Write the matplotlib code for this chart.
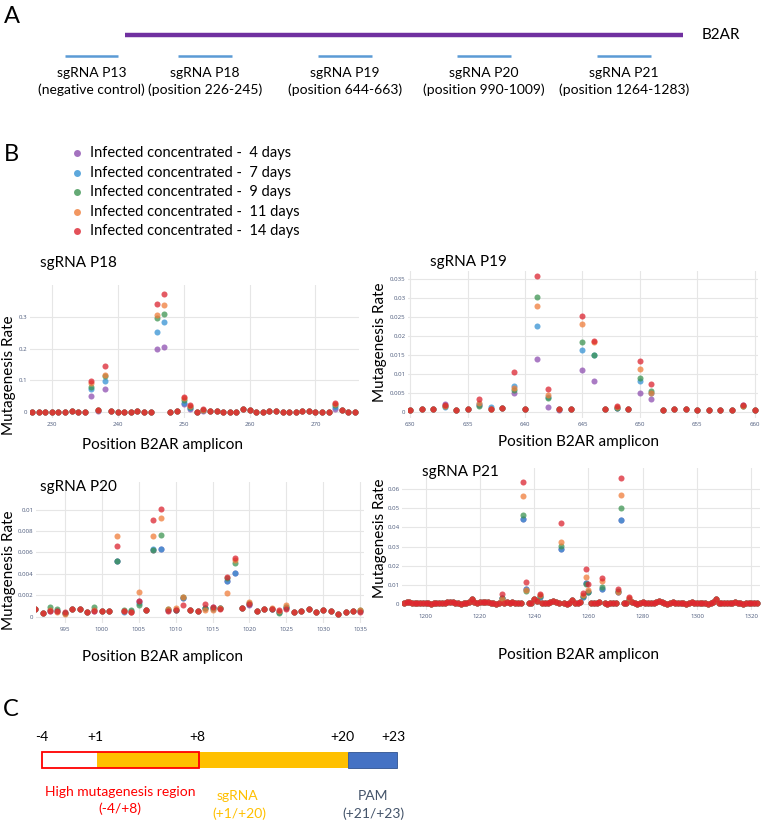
import matplotlib
matplotlib.use("Agg")
import matplotlib.pyplot as plt
from matplotlib.patches import Rectangle

W, H = 764, 823
plt.rcParams['font.family'] = ['Lato', 'DejaVu Sans']

# ---------------- data ----------------
series_labels = ["Infected concentrated -  4 days", "Infected concentrated -  7 days",
                 "Infected concentrated -  9 days", "Infected concentrated -  11 days",
                 "Infected concentrated -  14 days"]
series_colors = ['#8e4fb0', '#3592d4', '#3d9452', '#ef7d3a', '#dc2430']

# sgRNA P18
p18_pos = list(range(227, 277))
p18_base = [0.002, 0.002, 0.002, 0.002, 0.002, 0.002, 0.004, 0.002, 0.002, 0.098,
            0.006, 0.146, 0.004, 0.002, 0.002, 0.002, 0.005, 0.002, 0.002, 0.341,
            0.373, 0.002, 0.004, 0.049, 0.023, 0.002, 0.009, 0.004, 0.004, 0.002,
            0.002, 0.002, 0.009, 0.008, 0.002, 0.002, 0.005, 0.003, 0.002, 0.002,
            0.002, 0.004, 0.003, 0.002, 0.002, 0.002, 0.030, 0.008, 0.002, 0.002]
p18_peaks = {
    236: [0.050, 0.072, 0.081, 0.093, 0.098],
    237: [0.005, 0.006, 0.006, 0.006, 0.006],
    238: [0.072, 0.097, 0.113, 0.117, 0.146],
    246: [0.198, 0.252, 0.295, 0.305, 0.341],
    247: [0.204, 0.283, 0.310, 0.338, 0.373],
    250: [0.027, 0.030, 0.039, 0.044, 0.049],
    251: [0.010, 0.013, 0.018, 0.020, 0.023],
    253: [0.005, 0.006, 0.007, 0.008, 0.009],
    273: [0.010, 0.018, 0.022, 0.026, 0.030],
    274: [0.006, 0.007, 0.008, 0.008, 0.008],
}

# sgRNA P19
p19_pos = list(range(630, 661))
p19_base = [0.0005, 0.0008, 0.0006, 0.0017, 0.0005, 0.0006, 0.0032, 0.0007, 0.0009, 0.0106,
            0.0006, 0.0360, 0.0061, 0.0008, 0.0006, 0.0253, 0.0188, 0.0007, 0.0015, 0.0007,
            0.0134, 0.0073, 0.0004, 0.0006, 0.0008, 0.0003, 0.0004, 0.0004, 0.0005, 0.0017,
            0.0003]
p19_peaks = {
    633: [0.0021, 0.0012, 0.0015, 0.0015, 0.0017],
    636: [0.0017, 0.0019, 0.0016, 0.0024, 0.0032],
    637: [0.0007, 0.0012, 0.0007, 0.0007, 0.0007],
    639: [0.0049, 0.0067, 0.0058, 0.0063, 0.0106],
    640: [0.0008, 0.0006, 0.0006, 0.0006, 0.0006],
    641: [0.0139, 0.0226, 0.0304, 0.0280, 0.0360],
    642: [0.0013, 0.0038, 0.0036, 0.0043, 0.0061],
    643: [0.0004, 0.0007, 0.0007, 0.0008, 0.0008],
    645: [0.0111, 0.0164, 0.0185, 0.0233, 0.0253],
    646: [0.0082, 0.0151, 0.0150, 0.0185, 0.0188],
    648: [0.0010, 0.0010, 0.0010, 0.0013, 0.0015],
    650: [0.0050, 0.0082, 0.0090, 0.0113, 0.0134],
    651: [0.0033, 0.0048, 0.0055, 0.0050, 0.0073],
    659: [0.0017, 0.0016, 0.0015, 0.0016, 0.0017],
}

# sgRNA P20
p20_pos = list(range(991, 1036))
p20_base = [0.0007, 0.0003, 0.0005, 0.0005, 0.0004, 0.0007, 0.0007, 0.0004, 0.0005, 0.0005,
            0.0005, 0.0066, 0.0005, 0.0004, 0.0015, 0.0006, 0.0090, 0.0101, 0.0005, 0.0006,
            0.0011, 0.0006, 0.0005, 0.0012, 0.0009, 0.0007, 0.0037, 0.0055, 0.0008, 0.0012,
            0.0005, 0.0007, 0.0007, 0.0006, 0.0007, 0.0004, 0.0005, 0.0007, 0.0004, 0.0006,
            0.0005, 0.0002, 0.0004, 0.0005, 0.0004]
p20_peaks = {
    993: [0.0005, 0.0006, 0.0009, 0.0006, 0.0005],
    994: [0.0005, 0.0005, 0.0007, 0.0004, 0.0005],
    995: [0.0003, 0.0003, 0.0003, 0.0002, 0.0004],
    999: [0.0005, 0.0006, 0.0009, 0.0006, 0.0005],
    1002: [0.0052, 0.0052, 0.0052, 0.0075, 0.0066],
    1003: [0.0005, 0.0004, 0.0006, 0.0005, 0.0005],
    1004: [0.0004, 0.0005, 0.0006, 0.0004, 0.0004],
    1005: [0.0015, 0.0013, 0.0011, 0.0023, 0.0015],
    1007: [0.0062, 0.0063, 0.0062, 0.0075, 0.0090],
    1008: [0.0063, 0.0063, 0.0076, 0.0092, 0.0101],
    1009: [0.0006, 0.0006, 0.0007, 0.0007, 0.0005],
    1010: [0.0006, 0.0006, 0.0006, 0.0008, 0.0006],
    1011: [0.0017, 0.0017, 0.0018, 0.0018, 0.0011],
    1014: [0.0008, 0.0008, 0.0008, 0.0006, 0.0012],
    1015: [0.0009, 0.0007, 0.0008, 0.0006, 0.0009],
    1016: [0.0008, 0.0008, 0.0008, 0.0008, 0.0007],
    1017: [0.0033, 0.0033, 0.0036, 0.0022, 0.0037],
    1018: [0.0041, 0.0041, 0.0050, 0.0053, 0.0055],
    1020: [0.0011, 0.0012, 0.0013, 0.0014, 0.0012],
    1023: [0.0007, 0.0007, 0.0007, 0.0008, 0.0007],
    1024: [0.0004, 0.0004, 0.0003, 0.0005, 0.0006],
    1025: [0.0008, 0.0009, 0.0009, 0.0011, 0.0007],
    1035: [0.0005, 0.0005, 0.0006, 0.0006, 0.0004],
}

# sgRNA P21
p21_pos = list(range(1192, 1323))
p21_base = [0.0008, 0.0013, 0.0011, 0.0008, 0.0005, 0.0004, 0.0006, 0.0007, 0.0005, 0.0004,
            0.0003, 0.0006, 0.0008, 0.0006, 0.0004, 0.0005, 0.0009, 0.0012, 0.0010, 0.0006,
            0.0004, 0.0003, 0.0005, 0.0008, 0.0011, 0.0027, 0.0010, 0.0006, 0.0009, 0.0012,
            0.0014, 0.0009, 0.0005, 0.0004, 0.0003, 0.0005, 0.0052, 0.0007, 0.0012, 0.0008,
            0.0010, 0.0006, 0.0004, 0.0005, 0.0633, 0.0113, 0.0005, 0.0008, 0.0025, 0.0015,
            0.0054, 0.0006, 0.0004, 0.0008, 0.0012, 0.0018, 0.0011, 0.0004, 0.0423, 0.0005,
            0.0003, 0.0008, 0.0022, 0.0006, 0.0004, 0.0010, 0.0059, 0.0183, 0.0106, 0.0005,
            0.0007, 0.0006, 0.0012, 0.0134, 0.0004, 0.0003, 0.0006, 0.0005, 0.0008, 0.0077,
            0.0655, 0.0008, 0.0005, 0.0035, 0.0010, 0.0005, 0.0003, 0.0006, 0.0012, 0.0008,
            0.0005, 0.0004, 0.0007, 0.0010, 0.0015, 0.0009, 0.0005, 0.0003, 0.0006, 0.0009,
            0.0006, 0.0004, 0.0008, 0.0005, 0.0003, 0.0006, 0.0009, 0.0006, 0.0004, 0.0005,
            0.0008, 0.0005, 0.0003, 0.0006, 0.0009, 0.0025, 0.0008, 0.0005, 0.0004, 0.0006,
            0.0005, 0.0007, 0.0010, 0.0008, 0.0005, 0.0003, 0.0006, 0.0008, 0.0005, 0.0004,
            0.0006]
p21_peaks = {
    1228: [0.0030, 0.0030, 0.0030, 0.0028, 0.0052],
    1236: [0.0443, 0.0443, 0.0463, 0.0562, 0.0633],
    1237: [0.0077, 0.0077, 0.0068, 0.0075, 0.0113],
    1242: [0.0040, 0.0040, 0.0045, 0.0050, 0.0054],
    1250: [0.0287, 0.0287, 0.0304, 0.0323, 0.0423],
    1258: [0.0040, 0.0040, 0.0045, 0.0050, 0.0059],
    1259: [0.0108, 0.0108, 0.0103, 0.0143, 0.0183],
    1260: [0.0064, 0.0064, 0.0064, 0.0073, 0.0106],
    1265: [0.0077, 0.0077, 0.0090, 0.0122, 0.0134],
    1271: [0.0066, 0.0066, 0.0068, 0.0066, 0.0077],
    1272: [0.0438, 0.0438, 0.0500, 0.0569, 0.0655],
    1275: [0.0020, 0.0020, 0.0025, 0.0030, 0.0035],
}

p18_xticks = [230, 240, 250, 260, 270]
p18_yticks = [0, 0.1, 0.2, 0.3]
p18_ytl = ["0", "0.1", "0.2", "0.3"]
p19_xticks = [630, 635, 640, 645, 650, 655, 660]
p19_yticks = [0, 0.005, 0.01, 0.015, 0.02, 0.025, 0.03, 0.035]
p19_ytl = ["0", "0.005", "0.01", "0.015", "0.02", "0.025", "0.03", "0.035"]
p20_xticks = [995, 1000, 1005, 1010, 1015, 1020, 1025, 1030, 1035]
p20_yticks = [0, 0.002, 0.004, 0.006, 0.008, 0.01]
p20_ytl = ["0", "0.002", "0.004", "0.006", "0.008", "0.01"]
p21_xticks = [1200, 1220, 1240, 1260, 1280, 1300, 1320]
p21_yticks = [0, 0.01, 0.02, 0.03, 0.04, 0.05, 0.06]
p21_ytl = ["0", "0.01", "0.02", "0.03", "0.04", "0.05", "0.06"]

sg_names = ["sgRNA P13", "sgRNA P18", "sgRNA P19", "sgRNA P20", "sgRNA P21"]
sg_desc = ["(negative control)", "(position 226-245)", "(position 644-663)",
           "(position 990-1009)", "(position 1264-1283)"]

# ---------------- figure ----------------
fig = plt.figure(figsize=(W / 100, H / 100), dpi=100)
fig.patch.set_facecolor('white')


def rect(l, t, r, b):
    return [l / W, 1 - b / H, (r - l) / W, (b - t) / H]


def build(pos, base, peaks, k):
    return [peaks[p][k] if p in peaks else b for p, b in zip(pos, base)]


def panel(box, pos, base, peaks, xlim, ylim, xticks, yticks, ytl):
    ax = fig.add_axes(rect(*box))
    for k in range(5):
        ax.scatter(pos, build(pos, base, peaks, k), s=19, color=series_colors[k],
                   alpha=0.75, linewidths=0, zorder=3, clip_on=True)
    ax.set_xlim(*xlim)
    ax.set_ylim(*ylim)
    ax.set_xticks(xticks)
    ax.set_yticks(yticks)
    ax.set_yticklabels(ytl)
    for s in ax.spines.values():
        s.set_visible(False)
    ax.grid(True, color='#e6e6e6', lw=0.8)
    ax.set_axisbelow(True)
    ax.tick_params(length=0, labelsize=4.4, labelcolor='#4d5b7c', pad=1.8)
    for t in ax.get_xticklabels() + ax.get_yticklabels():
        t.set_family('Open Sans')
    ax.tick_params(axis='x', pad=3)
    return ax


panel((30, 285, 359, 418), p18_pos, p18_base, p18_peaks, (226.7, 276.6), (-0.018, 0.40),
      p18_xticks, p18_yticks, p18_ytl)
panel((408, 271, 758, 418), p19_pos, p19_base, p19_peaks, (629.8, 660.3), (-0.0017, 0.0372),
      p19_xticks, p19_yticks, p19_ytl)
panel((36, 482, 364, 623), p20_pos, p20_base, p20_peaks, (991.1, 1035.5), (-0.0006, 0.0126),
      p20_xticks, p20_yticks, p20_ytl)
panel((402, 468, 760, 610), p21_pos, p21_base, p21_peaks, (1191.3, 1323.2), (-0.003, 0.0708),
      p21_xticks, p21_yticks, p21_ytl)

ov = fig.add_axes([0, 0, 1, 1])
ov.set_xlim(0, W)
ov.set_ylim(H, 0)
ov.axis('off')
ov.set_zorder(10)

# ---- Panel A ----
ov.text(4, 16, "A", fontsize=17, va='center', ha='left')
ov.plot([125, 683], [35, 35], color='#7030A0', lw=3.2, solid_capstyle='butt')
ov.text(702, 35, "B2AR", fontsize=11, va='center', ha='left')
line_x = [(65, 118), (178, 232), (318, 372), (457, 511), (597, 651)]
for (a, b), nm, ds in zip(line_x, sg_names, sg_desc):
    ov.plot([a, b], [56, 56], color='#5B9BD5', lw=1.8, solid_capstyle='butt')
    c = (a + b) / 2
    ov.text(c, 73, nm, fontsize=10, ha='center', va='center')
    ov.text(c, 90, ds, fontsize=10, ha='center', va='center')

# ---- Panel B legend ----
ov.text(4, 154, "B", fontsize=17, va='center', ha='left')
for i, (lab, col) in enumerate(zip(series_labels, series_colors)):
    yy = 153 + i * 19.6
    ov.plot([77], [yy], 'o', ms=5, color=col, alpha=0.8, mec='none')
    ov.text(90, yy, lab, fontsize=10.5, va='center', ha='left')

# titles and labels
for x, y, t in [(40, 263, "sgRNA P18"), (430, 262, "sgRNA P19"),
                (40, 487, "sgRNA P20"), (422, 472, "sgRNA P21")]:
    ov.text(x, y, t, fontsize=11, ha='left', va='center')
for x, y in [(9, 375), (380, 342), (9, 570), (380, 538)]:
    ov.text(x, y, "Mutagenesis Rate", fontsize=11, rotation=90, ha='center', va='center')
for x, y in [(162, 445), (578, 442), (162, 657), (578, 655)]:
    ov.text(x, y, "Position B2AR amplicon", fontsize=11, ha='center', va='center')

# ---- Panel C ----
ov.text(3, 710, "C", fontsize=17, va='center', ha='left')
ov.add_patch(Rectangle((97, 752), 251, 16, facecolor='#FFC000', edgecolor='none', zorder=2))
ov.add_patch(Rectangle((348, 752), 49, 16, facecolor='#4472C4', edgecolor='#2F528F',
                       lw=0.6, zorder=2))
ov.add_patch(Rectangle((42, 752), 157, 16, facecolor='none', edgecolor='#FF0000',
                       lw=1.3, zorder=3))
for x, t in [(42, "-4"), (95, "+1"), (197, "+8"), (342, "+20"), (393, "+23")]:
    ov.text(x, 737, t, fontsize=10, ha='center', va='center')
ov.text(120, 792, "High mutagenesis region", fontsize=10, color='#FF0000', ha='center', va='center')
ov.text(120, 809, "(-4/+8)", fontsize=10, color='#FF0000', ha='center', va='center')
ov.text(237, 796, "sgRNA", fontsize=10, color='#FFC000', ha='center', va='center')
ov.text(239, 814, "(+1/+20)", fontsize=10, color='#FFC000', ha='center', va='center')
ov.text(373, 796, "PAM", fontsize=10, color='#44546A', ha='center', va='center')
ov.text(373, 814, "(+21/+23)", fontsize=10, color='#44546A', ha='center', va='center')

fig.savefig("out.png", dpi=100, facecolor='white')
